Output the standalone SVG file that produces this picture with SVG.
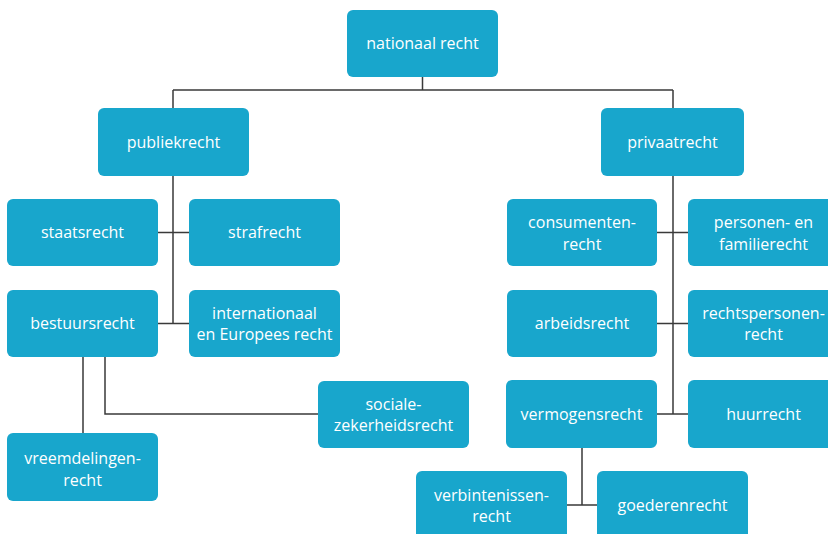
<svg xmlns="http://www.w3.org/2000/svg" width="828" height="534" viewBox="0 0 828 534">
<style>
.box{fill:#18a6cc}
.t{font-family:"Open Sans","Liberation Sans",sans-serif;font-size:16px;fill:#ffffff;text-anchor:middle;dominant-baseline:central}
.c{stroke:#3a3a3a;stroke-width:1.5;fill:none}
</style>
<rect width="828" height="534" fill="#ffffff"/>
<g id="connectors">
<path class="c" d="M422.5 77V90M173 90H673M173 90V108M673 90V108"/>
<path class="c" d="M173 176V323M158 232.5H189M158 323.5H189"/>
<path class="c" d="M83 357V433M105 357V414H318"/>
<path class="c" d="M673 176V414M657 232.5H688M657 323.5H688M657 414H688"/>
<path class="c" d="M582 448V505M567 505H597"/>
</g>
<g id="nationaal-recht"><rect class="box" x="347" y="10" width="151" height="67" rx="6"/><text class="t" x="422.5" y="43">nationaal recht</text></g>
<g id="publiekrecht"><rect class="box" x="98" y="108" width="151" height="68" rx="6"/><text class="t" x="173.5" y="141.5">publiekrecht</text></g>
<g id="privaatrecht"><rect class="box" x="601" y="108" width="143" height="68" rx="6"/><text class="t" x="672.5" y="141.5">privaatrecht</text></g>
<g id="staatsrecht"><rect class="box" x="7" y="199" width="151" height="67" rx="6"/><text class="t" x="82.5" y="232">staatsrecht</text></g>
<g id="strafrecht"><rect class="box" x="189" y="199" width="151" height="67" rx="6"/><text class="t" x="264.5" y="232">strafrecht</text></g>
<g id="bestuursrecht"><rect class="box" x="7" y="290" width="151" height="67" rx="6"/><text class="t" x="82.5" y="323">bestuursrecht</text></g>
<g id="internationaal"><rect class="box" x="189" y="290" width="151" height="67" rx="6"/><text class="t" x="264.5" y="312.5">internationaal</text><text class="t" x="264.5" y="334">en Europees recht</text></g>
<g id="sociale-zekerheidsrecht"><rect class="box" x="318" y="381" width="151" height="67" rx="6"/><text class="t" x="393.5" y="403.5">sociale-</text><text class="t" x="393.5" y="425">zekerheidsrecht</text></g>
<g id="vreemdelingenrecht"><rect class="box" x="7" y="433" width="151" height="68" rx="6"/><text class="t" x="82.5" y="458">vreemdelingen-</text><text class="t" x="82.5" y="479.5">recht</text></g>
<g id="consumentenrecht"><rect class="box" x="507" y="199" width="150" height="67" rx="6"/><text class="t" x="582" y="222">consumenten-</text><text class="t" x="582" y="243.5">recht</text></g>
<g id="personen-familierecht"><rect class="box" x="688" y="199" width="151" height="67" rx="6"/><text class="t" x="763.5" y="222">personen- en</text><text class="t" x="763.5" y="243.5">familierecht</text></g>
<g id="arbeidsrecht"><rect class="box" x="507" y="290" width="150" height="67" rx="6"/><text class="t" x="582" y="323">arbeidsrecht</text></g>
<g id="rechtspersonenrecht"><rect class="box" x="688" y="290" width="151" height="67" rx="6"/><text class="t" x="763.5" y="312.5">rechtspersonen-</text><text class="t" x="763.5" y="334">recht</text></g>
<g id="vermogensrecht"><rect class="box" x="506" y="380" width="151" height="68" rx="6"/><text class="t" x="581.5" y="413.5">vermogensrecht</text></g>
<g id="huurrecht"><rect class="box" x="688" y="380" width="151" height="68" rx="6"/><text class="t" x="763.5" y="413.5">huurrecht</text></g>
<g id="verbintenissenrecht"><rect class="box" x="416" y="471" width="151" height="70" rx="6"/><text class="t" x="491.5" y="494.5">verbintenissen-</text><text class="t" x="491.5" y="516">recht</text></g>
<g id="goederenrecht"><rect class="box" x="597" y="471" width="151" height="70" rx="6"/><text class="t" x="672.5" y="504.5">goederenrecht</text></g>
</svg>
